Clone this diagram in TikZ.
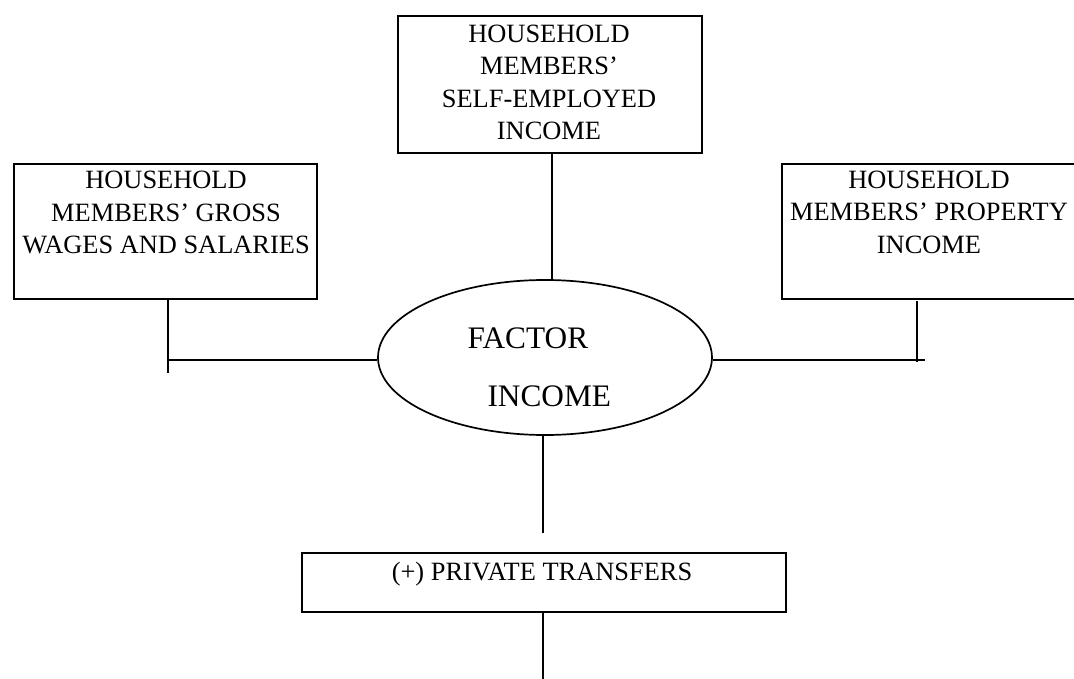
\documentclass[tikz,border=0pt]{standalone}
\usepackage{fontspec}
\setmainfont{Liberation Serif}
\usetikzlibrary{shapes.geometric}
\begin{document}
\begin{tikzpicture}[x=1pt,y=-1pt,
  line width=1.7pt,
  boxshape/.style={draw, rectangle, inner sep=0pt, anchor=north west},
  boxtext/.style={font=\fontsize{26.4}{32.5}\selectfont, align=center, inner sep=0pt, anchor=north},
  ovaltext/.style={font=\fontsize{31.3}{36}\selectfont, inner sep=0pt, anchor=base west},
  oval/.style={draw, ellipse, inner sep=0pt, minimum width=334pt, minimum height=155pt},
  link/.style={draw, line width=1.7pt}
]
\clip (0,0) rectangle (1074,679);
% boxes
\node[boxshape, minimum width=303pt, minimum height=135pt] (lbox) at (13,163) {};
\node[boxtext] (ltext) at (166,170.5) {HOUSEHOLD\\MEMBERS’ GROSS\\WAGES AND SALARIES};
\node[boxshape, minimum width=304pt, minimum height=137pt] (tbox) at (397,15) {};
\node[boxtext] (ttext) at (549,23.8) {HOUSEHOLD\\MEMBERS’\\SELF-EMPLOYED\\INCOME};
\node[boxshape, minimum width=304pt, minimum height=135pt] (rbox) at (781,163) {};
\node[boxtext] (rtext) at (929,169.8) {HOUSEHOLD\\MEMBERS’ PROPERTY\\INCOME};
\node[oval] (fi) at (545,357.5) {};
\node[ovaltext] (ftext) at (466.7,348.3) {FACTOR};
\node[ovaltext] (itext) at (486.7,406) {INCOME};
\node[boxshape, minimum width=484pt, minimum height=59pt] (bbox) at (301,552) {};
\node[boxtext, anchor=base] (btext) at (542,580.5) {(+) PRIVATE TRANSFERS};
% coordinates
\coordinate (jl) at (168,360);
\coordinate (jlend) at (168,373);
\coordinate (jrtop) at (917,301);
\coordinate (jrbot) at (917,362);
\coordinate (jr) at (917,360);
\coordinate (jrend) at (925,360);
\coordinate (tx) at (552,0);
\coordinate (bx) at (543,0);
\coordinate (bmid) at (543,533);
\coordinate (bend) at (543,679);
% connectors
\draw[link] (lbox.south -| jl) -- (jlend);
\draw[link] (jl) -- (jl -| fi.west);
\draw[link] (jrtop) -- (jrbot);
\draw[link] (fi.east |- jr) -- (jrend);
\draw[link] (tbox.south -| tx) -- (tx |- fi.north);
\draw[link] (bx |- fi.south) -- (bmid);
\draw[link] (bbox.south -| bx) -- (bend);
\end{tikzpicture}
\end{document}
